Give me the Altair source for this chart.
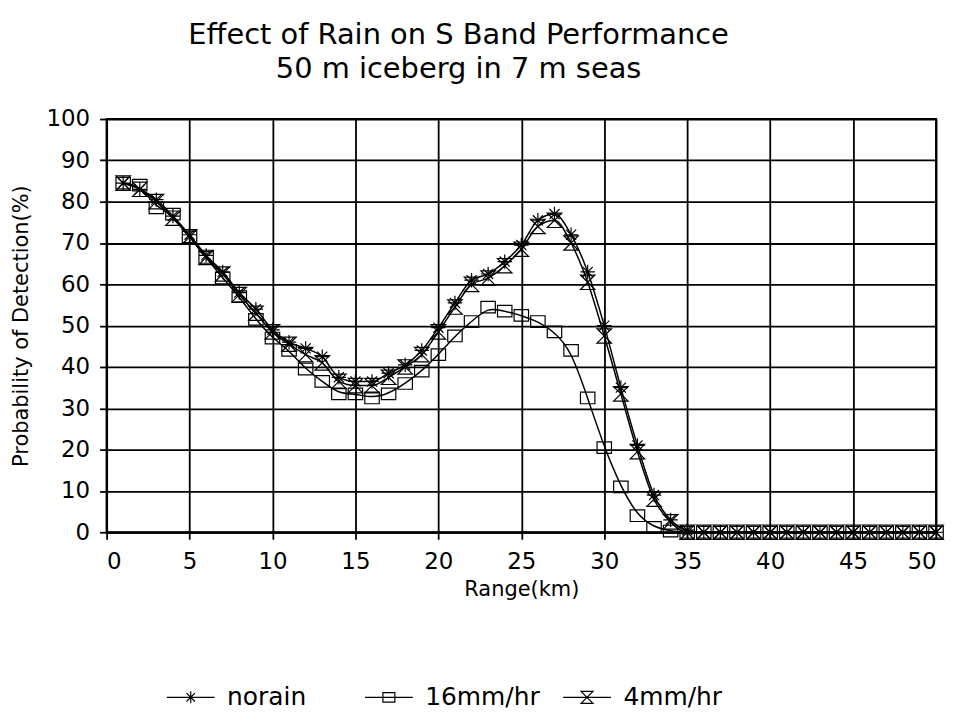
import altair as alt
import pandas as pd

# ---- data ----
range_km = list(range(1, 51))
series_names = ["norain", "16mm/hr", "4mm/hr"]

norain = [84.5, 83, 80.5, 76.5, 72, 67, 63, 58, 54, 49,
          46, 44.5, 42.5, 37.5, 36.5, 36.5, 38.5, 40.5, 44, 49.5,
          55.5, 61, 62.5, 65.5, 69.5, 75.5, 77, 72, 63, 50,
          35, 21, 9, 3, 0.5, 0, 0, 0, 0, 0,
          0, 0, 0, 0, 0, 0, 0, 0, 0, 0]
rain16 = [84.5, 84, 78.5, 77, 71.5, 66.5, 61.5, 57, 51.5, 47,
          44, 39.5, 36.5, 33.5, 33.5, 32.5, 33.5, 36, 39, 43,
          47.5, 51, 54.5, 53.5, 52.5, 51, 48.5, 44, 32.5, 20.5,
          11, 4, 1.2, 0.3, 0, 0, 0, 0, 0, 0,
          0, 0, 0, 0, 0, 0, 0, 0, 0, 0]
rain4 = [84.5, 83, 80, 76, 71.5, 66.5, 62.5, 57.5, 53, 48.5,
         45.5, 43, 41, 36.5, 35.5, 35.5, 37.5, 40, 43, 48.5,
         54.5, 60, 61.5, 64.5, 68.5, 74, 75.5, 70, 60.5, 47.5,
         33.5, 19.5, 8, 2.5, 0, 0, 0, 0, 0, 0,
         0, 0, 0, 0, 0, 0, 0, 0, 0, 0]

x_ticks = list(range(0, 51, 5))
y_ticks = list(range(0, 101, 10))

rows = []
for name, vals in zip(series_names, [norain, rain16, rain4]):
    for k, v in zip(range_km, vals):
        rows.append({"km": k, "pd": v, "series": name})
df = pd.DataFrame(rows)

# ---- marker shapes ----
ast = "M-1,0L1,0M0,-1L0,1M-0.7,-0.7L0.7,0.7M-0.7,0.7L0.7,-0.7"
sq = "M-1,-0.8L1,-0.8L1,0.8L-1,0.8Z"
bow = "M-1,-1L1,-1L-1,1L1,1Z"
leg_line = "M-4,0L4,0"
leg_ast = leg_line + "M0,-1L0,1M-0.7,-0.7L0.7,0.7M-0.7,0.7L0.7,-0.7"
leg_sq = leg_line + sq
leg_bow = leg_line + bow

FONT = "DejaVu Sans"

x = alt.X("km:Q", scale=alt.Scale(domain=[0, 50], nice=False),
          axis=alt.Axis(values=x_ticks, title="Range(km)", labelFontSize=23,
                        titleFontSize=21, labelPadding=11, titlePadding=6))
y = alt.Y("pd:Q", scale=alt.Scale(domain=[0, 100], nice=False),
          axis=alt.Axis(values=y_ticks, title="Probability of Detection(%)",
                        labelFontSize=23, titleFontSize=21, labelPadding=10,
                        titlePadding=15))

base = alt.Chart(df).encode(x=x, y=y)

lines_a = base.transform_filter("datum.series != '16mm/hr'").mark_line(
    interpolate="monotone", color="black", strokeWidth=1.5
).encode(detail="series:N")

lines_b = base.transform_filter("datum.series == '16mm/hr'").mark_line(
    interpolate="basis", color="black", strokeWidth=1.5
)

points = base.mark_point(filled=False, color="black", strokeWidth=1.2, size=210, opacity=1).encode(
    shape=alt.Shape("series:N", scale=alt.Scale(domain=series_names, range=[ast, sq, bow]),
                    legend=None)
)

legend_layer = base.mark_point(filled=False, color="black", opacity=0).encode(
    shape=alt.Shape("series:N",
                    scale=alt.Scale(domain=series_names, range=[leg_ast, leg_sq, leg_bow]),
                    legend=alt.Legend(title=None, orient="none", legendX=72, legendY=568,
                                      direction="horizontal", columns=3,
                                      symbolSize=144, symbolStrokeColor="black",
                                      symbolFillColor="transparent", symbolOpacity=1,
                                      symbolStrokeWidth=1.2, labelFontSize=25,
                                      labelOffset=24, columnPadding=20, gridAlign="all",
                                      labelFont=FONT, labelColor="black"))
)

chart = alt.layer(lines_a, lines_b, points, legend_layer).resolve_scale(
    shape="independent"
).properties(
    width=833, height=415,
    autosize=alt.AutoSizeParams(type="none"),
    padding={"left": 99, "top": 110, "right": 10, "bottom": 180},
    title=alt.TitleParams(["Effect of Rain on S Band Performance", "50 m iceberg in 7 m seas"],
                          fontSize=29, font=FONT, fontWeight="normal", anchor="middle",
                          dx=-63, offset=24, lineHeight=34, color="black"),
    background="white",
).configure_view(
    stroke="black", strokeWidth=2
).configure_axis(
    labelFont=FONT, titleFont=FONT, labelColor="black", titleColor="black",
    titleFontWeight="normal", domainColor="black", domainWidth=2,
    gridColor="black", gridWidth=1.8, gridOpacity=1, tickColor="black",
    tickWidth=1.8, tickSize=7
)

chart.save("out.html", embed_options={"renderer": "svg", "actions": False})
